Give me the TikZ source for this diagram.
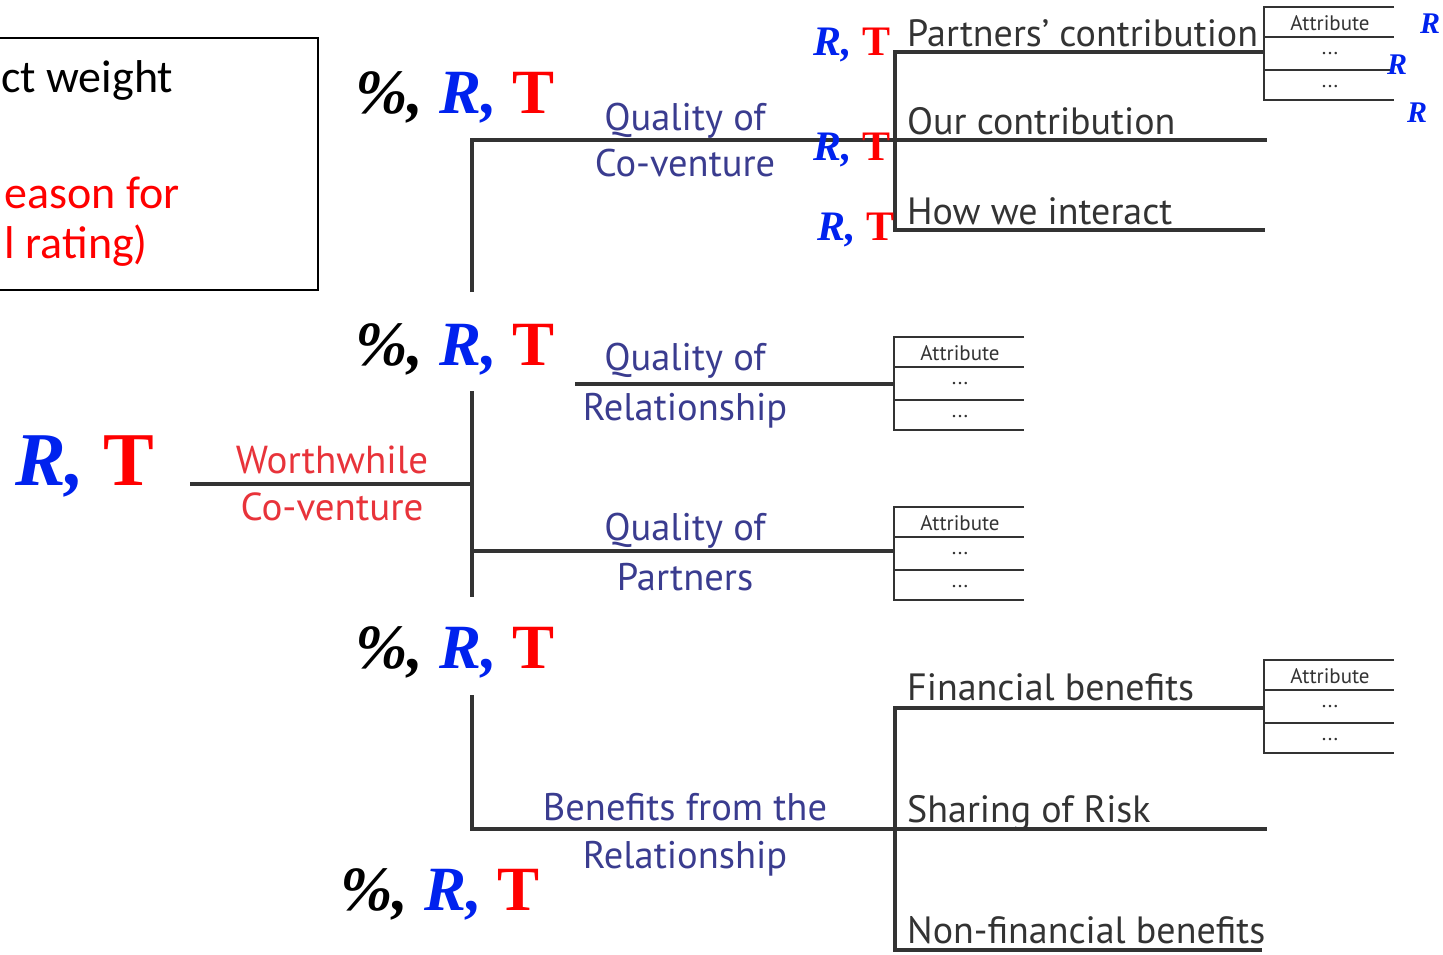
\documentclass[tikz,border=0pt]{standalone}
\usepackage{fontspec}
\setmainfont{Liberation Serif}
\newfontfamily\treefont{PT Sans}
\newfontfamily\notefont{Carlito}
\definecolor{ink}{HTML}{333333}
\definecolor{navy}{RGB}{58,60,143}
\definecolor{labred}{RGB}{232,51,58}
\definecolor{rblue}{RGB}{0,34,238}
\definecolor{tred}{RGB}{255,0,0}
\newcommand\rtmark{{\bfseries\itshape\color{rblue}R,} {\bfseries\color{tred}T}}
\newcommand\prtmark{{\bfseries\itshape\%,} \rtmark}
\newcommand\rmark{{\bfseries\itshape\color{rblue}R}}
\newcommand\fs[1]{\fontsize{#1}{#1}\selectfont}
\begin{document}
\begin{tikzpicture}[x=1pt,y=-1pt,
  branch/.style={line width=4pt, draw=ink},
  cell/.style={line width=2pt, draw=ink},
  leaf/.style={font=\treefont\fs{38}, text=ink, anchor=base west, inner sep=0pt},
  aspect/.style={font=\treefont\fs{38.5}, text=navy, anchor=base, inner sep=0pt},
  goal/.style={font=\treefont\fs{39}, text=labred, anchor=base, inner sep=0pt},
  big/.style={font=\fs{76}, anchor=base west, inner sep=0pt},
  mid/.style={font=\fs{63}, anchor=base west, inner sep=0pt},
  small/.style={font=\fs{42}, anchor=base west, inner sep=0pt},
  tiny/.style={font=\fs{30}, anchor=base west, inner sep=0pt},
  attr/.style={font=\treefont\fs{21}, text=ink, inner sep=0pt},
  note/.style={font=\notefont\fs{46}, anchor=base east, inner sep=0pt}
]
\useasboundingbox (0,0) rectangle (1443,954);

% legend box, partly off the left edge
\draw[line width=2pt, black] (-10,38) rectangle (318,290);
\node[note, text=black, anchor=base west] (n1) at (1,92) {ct weight};
\node[note, text=red] (n2) at (180,208) {eason for};
\node[note, text=red] (n3) at (148,258) {l rating)};

% junction points of the tree
\coordinate (root) at (190,484);
\coordinate (trunk) at (472,484);
\coordinate (sTopA) at (472,292);
\coordinate (sTopB) at (472,140);
\coordinate (sMidA) at (472,391);
\coordinate (sMidB) at (472,597);
\coordinate (sLowA) at (472,695);
\coordinate (sLowB) at (472,829);
\coordinate (qpL) at (472,551);
\coordinate (qrL) at (575,384);
\coordinate (cvR) at (1267,140);
\coordinate (brR) at (1267,829);
\coordinate (g1a) at (1265,52);
\coordinate (g1b) at (895,52);
\coordinate (g1c) at (895,230);
\coordinate (g1d) at (1265,230);
\coordinate (g2a) at (1264,708);
\coordinate (g2b) at (895,708);
\coordinate (g2c) at (895,950);
\coordinate (g2d) at (1262,950);

% attribute tables: name / left x / top y
\foreach \nm/\bx/\by in {ta/1264/7, tb/894/337, tc/894/507, td/1264/660}{
  \coordinate (\nm) at (\bx,\by);
  \draw[cell] ([xshift=130pt]\nm) -- (\nm) -- ([yshift=-93pt]\nm) -- ([shift={(130pt,-93pt)}]\nm);
  \draw[cell] ([yshift=-30pt]\nm) -- ([shift={(130pt,-30pt)}]\nm);
  \draw[cell] ([yshift=-63pt]\nm) -- ([shift={(130pt,-63pt)}]\nm);
  \node[attr] (\nm-h) at ([shift={(66pt,-16pt)}]\nm) {Attribute};
  \node[attr] (\nm-1) at ([shift={(66pt,-47pt)}]\nm) {...};
  \node[attr] (\nm-2) at ([shift={(66pt,-80pt)}]\nm) {...};
}
\coordinate (tbL) at (894,384);
\coordinate (tcL) at (894,551);

% branches
\draw[branch] (root) -- (trunk);
\draw[branch] (sTopA) -- (sTopB) -- (cvR);
\draw[branch] (sMidA) -- (sMidB);
\draw[branch] (sLowA) -- (sLowB) -- (brR);
\draw[branch] (qrL) -- (tbL);
\draw[branch] (qpL) -- (tcL);
\draw[branch] (g1a) -- (g1b) -- (g1c) -- (g1d);
\draw[branch] (g2a) -- (g2b) -- (g2c) -- (g2d);

% labels
\node[goal] (w1) at (332,473) {Worthwhile};
\node[goal] (w2) at (332,520) {Co-venture};
\node[aspect] (a1) at (685,130) {Quality of};
\node[aspect] (a2) at (685,176) {Co-venture};
\node[aspect] (b1) at (685,370) {Quality of};
\node[aspect] (b2) at (685,420) {Relationship};
\node[aspect] (c1) at (685,540) {Quality of};
\node[aspect] (c2) at (685,590) {Partners};
\node[aspect] (d1) at (685,820) {Benefits from the};
\node[aspect] (d2) at (685,868) {Relationship};

\node[leaf] (l1) at (907,46) {Partners’ contribution};
\node[leaf] (l2) at (907,134) {Our contribution};
\node[leaf] (l3) at (907,224) {How we interact};
\node[leaf] (l4) at (907,700) {Financial benefits};
\node[leaf] (l5) at (907,822) {Sharing of Risk};
\node[leaf] (l6) at (907,943) {Non-financial benefits};

% rating marks
\node[big] (m0) at (15,485) {\rtmark};
\node[mid] (m1) at (355,113) {\prtmark};
\node[mid] (m2) at (355,365) {\prtmark};
\node[mid] (m3) at (355,668) {\prtmark};
\node[mid] (m4) at (340,910) {\prtmark};
\node[small] (s1) at (813,55) {\rtmark};
\node[small] (s2) at (813,160) {\rtmark};
\node[small] (s3) at (817,240) {\rtmark};
\node[tiny] (r1) at (1420,33) {\rmark};
\node[tiny] (r2) at (1387,74) {\rmark};
\node[tiny] (r3) at (1407,122) {\rmark};
\end{tikzpicture}
\end{document}
